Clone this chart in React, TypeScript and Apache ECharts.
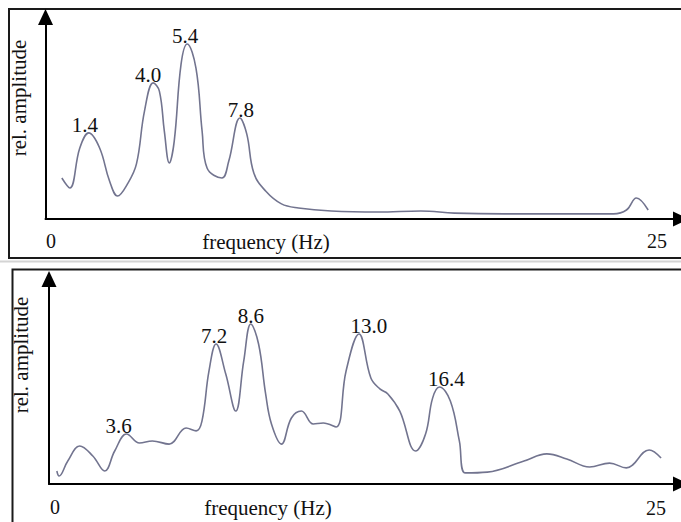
import React, { useEffect, useRef } from "react";
import * as echarts from "echarts";

// ---- data ----
const topFreq = [0.25, 0.59, 1.01, 1.39, 1.85, 2.27, 2.61, 3.03, 3.41, 3.75, 4.12, 4.38, 4.59, 4.8, 5.01, 5.3, 5.56, 5.93, 6.19, 6.4, 7.03, 7.32, 7.79, 8.08, 8.38, 8.88, 9.55, 10.27, 11.66, 13.64, 15.45, 16.88, 18.98, 23.61, 24.16, 24.58, 25.08];
const topAmp = [20.1, 15.2, 34.8, 42.2, 34.8, 18.6, 11.3, 17.2, 27.0, 52.9, 66.7, 62.7, 43.1, 27.5, 38.2, 76.0, 85.8, 74.0, 43.1, 25.0, 20.1, 28.4, 49.5, 41.7, 22.5, 13.7, 7.4, 5.4, 3.9, 3.4, 3.9, 2.9, 2.5, 2.5, 4.4, 10.3, 4.4];
const topPeakFreq = [1.39, 4.12, 5.56, 7.79];
const topPeakLabels = ["1.4", "4.0", "5.4", "7.8"];

const botFreq = [0.65, 0.74, 1.1, 1.59, 2.13, 2.62, 3.03, 3.52, 4.05, 4.58, 5.27, 5.97, 6.38, 6.62, 6.91, 7.2, 7.6, 8.01, 8.34, 8.63, 8.95, 9.24, 9.48, 9.89, 10.3, 10.71, 11.2, 11.61, 12.14, 12.55, 13.08, 13.57, 13.94, 14.27, 14.76, 15.41, 15.82, 16.11, 16.39, 16.84, 17.21, 17.46, 18.36, 19.87, 20.81, 21.63, 22.57, 23.39, 24.08, 25.02, 25.51];
const botAmp = [6.2, 3.8, 11.0, 18.2, 13.4, 6.2, 15.8, 23.9, 19.6, 20.6, 19.1, 26.8, 25.4, 30.1, 54.1, 67.0, 52.6, 34.9, 58.9, 76.6, 67.0, 43.1, 28.7, 19.1, 31.6, 34.9, 28.7, 29.2, 27.3, 54.1, 71.8, 50.7, 45.5, 43.1, 34.9, 15.8, 23.9, 41.1, 46.4, 39.7, 20.6, 5.3, 5.7, 11.0, 14.4, 12.0, 8.1, 10.0, 7.7, 16.3, 12.4];
const botPeakFreq = [3.52, 7.2, 8.63, 13.08, 16.39];
const botPeakLabels = ["3.6", "7.2", "8.6", "13.0", "16.4"];

// horizontal nudges of the peak labels (style only)
const topLabelNudge = [-4, -5, -2, 1];
const botLabelNudge = [-8, -2, 0, 10, 7];

const xTickLabels = ["0", "25"];
const xAxisTitle = "frequency (Hz)";
const yAxisTitle = "rel. amplitude";

const FONT = '"Liberation Serif", "Times New Roman", serif';
const LINE_COLOR = "#72748f";

function buildData(freq: number[], amp: number[], peaks: number[], labels: string[], nudge: number[]) {
  return freq.map((f, i) => {
    const k = peaks.indexOf(f);
    if (k >= 0) {
      return {
        value: [f, amp[i]],
        label: {
          show: true,
          formatter: labels[k],
          position: "top",
          distance: -3,
          offset: [nudge[k], 0],
          fontFamily: FONT,
          fontSize: 21,
          color: "#111",
        },
      };
    }
    return { value: [f, amp[i]] };
  });
}

function axisBase(gridIndex: number, min: number, max: number) {
  return {
    type: "value",
    gridIndex,
    min,
    max,
    axisLine: {
      show: true,
      onZero: false,
      lineStyle: { color: "#000", width: 2 },
      symbol: ["none", "triangle"],
      symbolSize: [15, 16],
    },
    axisTick: { show: false },
    axisLabel: { show: false },
    splitLine: { show: false },
  };
}

function txt(text: string, x: number, y: number, size: number, rotation = 0) {
  return {
    type: "text",
    x,
    y,
    rotation,
    z: 10,
    style: {
      text,
      fill: "#111",
      font: `${size}px ${FONT}`,
      align: "center",
      verticalAlign: "middle",
    },
  };
}

export default function App() {
  const ref = useRef<HTMLDivElement>(null);
  useEffect(() => {
    document.body.style.margin = "0";
    document.body.style.overflow = "hidden";
    if (!ref.current) return;
    const chart = echarts.init(ref.current, undefined, { renderer: "svg" });
    const seriesBase = {
      type: "line",
      smooth: 0.4,
      symbol: "circle",
      symbolSize: 1,
      showAllSymbol: true,
      itemStyle: { color: "rgba(0,0,0,0)", borderWidth: 0 },
      lineStyle: { color: LINE_COLOR, width: 1.6 },
      label: { show: false },
      emphasis: { disabled: true },
      silent: true,
    };
    chart.setOption({
      animation: false,
      backgroundColor: "#ffffff",
      grid: [
        { left: 45.5, top: 17, width: 639.5, height: 202 },
        { left: 49, top: 279, width: 636, height: 205 },
      ],
      xAxis: [axisBase(0, -0.442, 26.47), axisBase(1, 0.327, 26.33)],
      yAxis: [axisBase(0, 0, 99), axisBase(1, 0, 98.1)],
      series: [
        {
          ...seriesBase,
          xAxisIndex: 0,
          yAxisIndex: 0,
          data: buildData(topFreq, topAmp, topPeakFreq, topPeakLabels, topLabelNudge),
        },
        {
          ...seriesBase,
          xAxisIndex: 1,
          yAxisIndex: 1,
          data: buildData(botFreq, botAmp, botPeakFreq, botPeakLabels, botLabelNudge),
        },
      ],
      graphic: [
        {
          type: "rect",
          shape: { x: 9, y: 9, width: 700, height: 249 },
          style: { fill: "none", stroke: "#1a1a1a", lineWidth: 2 },
        },
        {
          type: "line",
          shape: { x1: 0, y1: 261.5, x2: 681, y2: 261.5 },
          style: { stroke: "#d4d4d4", lineWidth: 2 },
        },
        {
          type: "rect",
          shape: { x: 12.5, y: 269.5, width: 700, height: 300 },
          style: { fill: "none", stroke: "#1a1a1a", lineWidth: 2 },
        },
        txt(xTickLabels[0], 51, 241, 20),
        txt(xTickLabels[1], 657, 241, 20),
        txt(xAxisTitle, 266, 242, 21),
        txt(yAxisTitle, 19, 98, 21, Math.PI / 2),
        txt(xTickLabels[0], 55, 507, 20),
        txt(xTickLabels[1], 656, 508, 20),
        txt(xAxisTitle, 268, 508, 21),
        txt(yAxisTitle, 21, 355, 21, Math.PI / 2),
      ],
    });
    return () => chart.dispose();
  }, []);
  return <div ref={ref} style={{ width: 681, height: 522 }} />;
}
